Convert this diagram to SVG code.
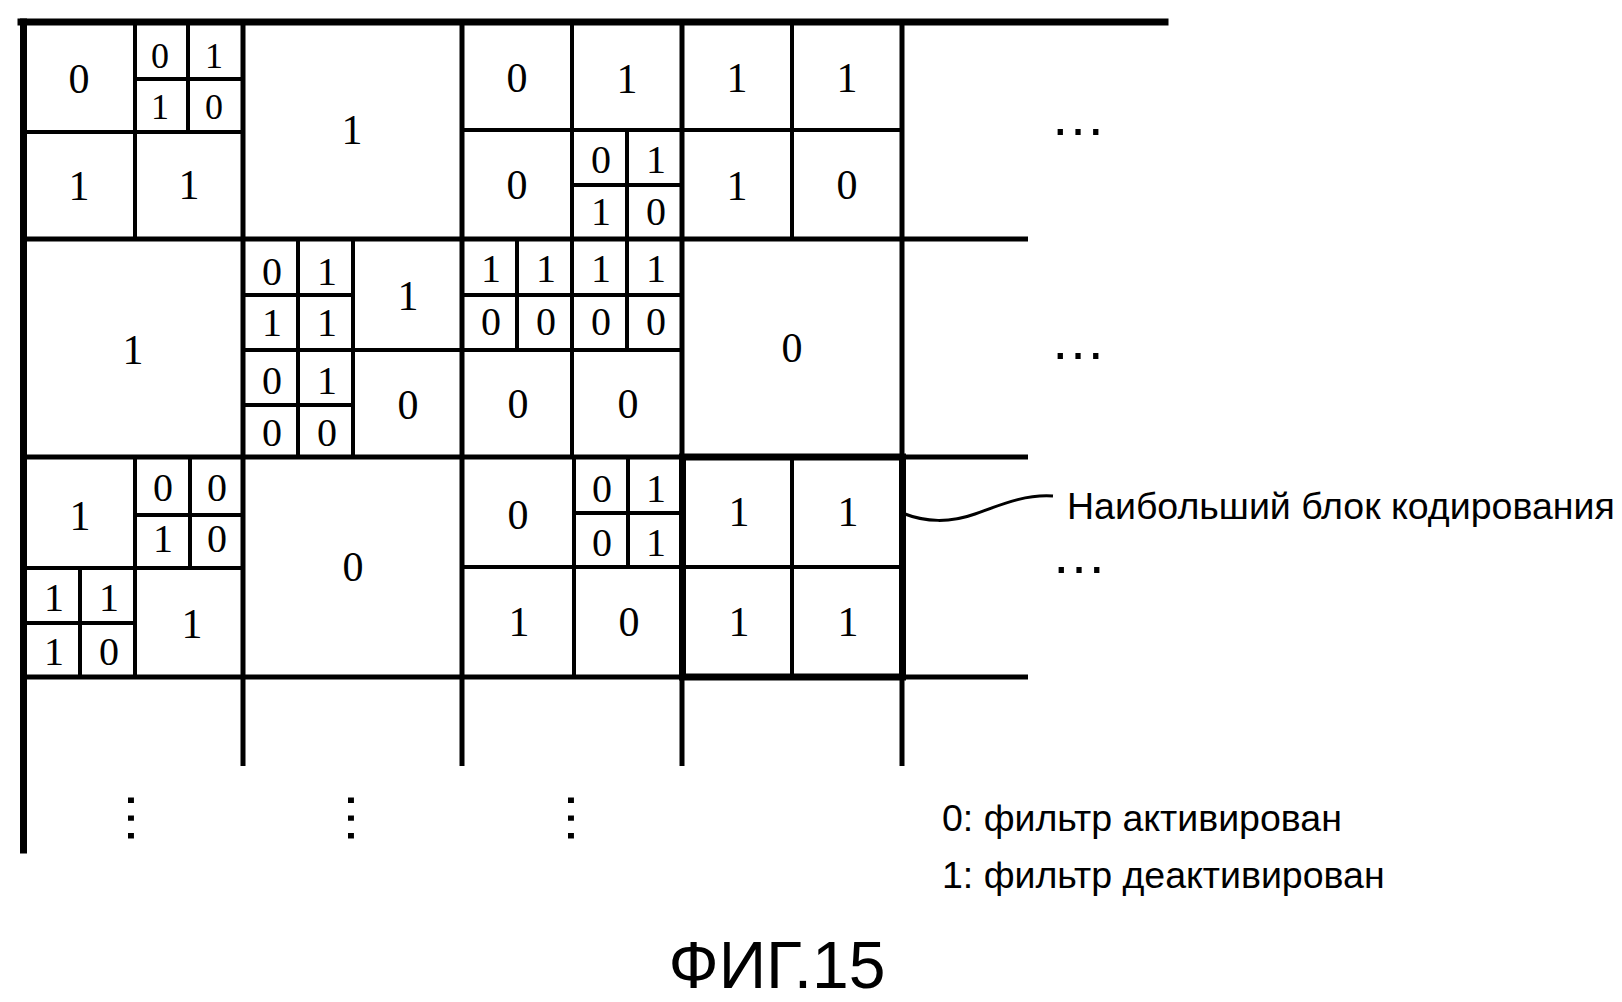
<svg xmlns="http://www.w3.org/2000/svg" width="1622" height="1002" viewBox="0 0 1622 1002">
<style>
.bg{fill:#fff}
.bd{stroke:#000;stroke-width:7;stroke-linecap:square;fill:none}
.lcu{stroke:#000;stroke-width:5;fill:none}
.cu{stroke:#000;stroke-width:4;fill:none}
.hl{stroke:#000;stroke-width:7;fill:none}
.conn{stroke:#000;stroke-width:3;fill:none}
.d{font-family:"Liberation Serif","Times New Roman",serif;text-anchor:middle;fill:#000}
.b{font-size:42px}
.s{font-size:40px}
.xs{font-size:36px}
.t{font-family:"Liberation Sans",Arial,sans-serif;fill:#000;font-size:37.5px}
.dots{font-family:"Liberation Sans",Arial,sans-serif;fill:#000;font-size:56px;text-anchor:middle}
</style>
<rect class="bg" x="0" y="0" width="1622" height="1002"/>
<g id="grid">
<line class="bd" x1="21" y1="22" x2="1165" y2="22"/>
<line class="bd" x1="23.5" y1="22" x2="23.5" y2="850"/>
<line class="lcu" x1="23" y1="239" x2="1028" y2="239"/>
<line class="lcu" x1="23" y1="457" x2="1028" y2="457"/>
<line class="lcu" x1="23" y1="677" x2="1028" y2="677"/>
<line class="lcu" x1="243" y1="22" x2="243" y2="766"/>
<line class="lcu" x1="462" y1="22" x2="462" y2="766"/>
<line class="lcu" x1="682" y1="22" x2="682" y2="766"/>
<line class="lcu" x1="902" y1="22" x2="902" y2="766"/>
</g>
<g id="lcu-0-0">
<line class="cu" x1="135" y1="22" x2="135" y2="239"/>
<line class="cu" x1="23" y1="132" x2="243" y2="132"/>
<line class="cu" x1="188" y1="22" x2="188" y2="132"/>
<line class="cu" x1="135" y1="79" x2="243" y2="79"/>
<text class="d b" x="79" y="93">0</text>
<text class="d xs" x="160" y="68">0</text>
<text class="d xs" x="214" y="68">1</text>
<text class="d xs" x="160" y="119">1</text>
<text class="d xs" x="214" y="119">0</text>
<text class="d b" x="79" y="200">1</text>
<text class="d b" x="189" y="199">1</text>
</g>
<g id="lcu-0-1">
<text class="d b" x="352" y="144">1</text>
</g>
<g id="lcu-0-2">
<line class="cu" x1="572" y1="22" x2="572" y2="239"/>
<line class="cu" x1="462" y1="130" x2="682" y2="130"/>
<line class="cu" x1="627" y1="130" x2="627" y2="239"/>
<line class="cu" x1="572" y1="185" x2="682" y2="185"/>
<text class="d b" x="517" y="92">0</text>
<text class="d b" x="627" y="93">1</text>
<text class="d b" x="517" y="199">0</text>
<text class="d s" x="601" y="173">0</text>
<text class="d s" x="656" y="173">1</text>
<text class="d s" x="601" y="225">1</text>
<text class="d s" x="656" y="225">0</text>
</g>
<g id="lcu-0-3">
<line class="cu" x1="792" y1="22" x2="792" y2="239"/>
<line class="cu" x1="682" y1="130" x2="902" y2="130"/>
<text class="d b" x="737" y="92">1</text>
<text class="d b" x="847" y="92">1</text>
<text class="d b" x="737" y="200">1</text>
<text class="d b" x="847" y="199">0</text>
</g>
<g id="lcu-1-0">
<text class="d b" x="133" y="364">1</text>
</g>
<g id="lcu-1-1">
<line class="cu" x1="353" y1="239" x2="353" y2="457"/>
<line class="cu" x1="243" y1="350" x2="462" y2="350"/>
<line class="cu" x1="298" y1="239" x2="298" y2="457"/>
<line class="cu" x1="243" y1="295" x2="353" y2="295"/>
<line class="cu" x1="243" y1="405" x2="353" y2="405"/>
<text class="d s" x="272" y="285">0</text>
<text class="d s" x="327" y="285">1</text>
<text class="d s" x="272" y="336">1</text>
<text class="d s" x="327" y="336">1</text>
<text class="d b" x="408" y="310">1</text>
<text class="d s" x="272" y="394">0</text>
<text class="d s" x="327" y="394">1</text>
<text class="d s" x="272" y="446">0</text>
<text class="d s" x="327" y="446">0</text>
<text class="d b" x="408" y="419">0</text>
</g>
<g id="lcu-1-2">
<line class="cu" x1="572" y1="239" x2="572" y2="457"/>
<line class="cu" x1="462" y1="350" x2="682" y2="350"/>
<line class="cu" x1="517" y1="239" x2="517" y2="350"/>
<line class="cu" x1="627" y1="239" x2="627" y2="350"/>
<line class="cu" x1="462" y1="295" x2="682" y2="295"/>
<text class="d s" x="491" y="282">1</text>
<text class="d s" x="546" y="282">1</text>
<text class="d s" x="491" y="335">0</text>
<text class="d s" x="546" y="335">0</text>
<text class="d s" x="601" y="282">1</text>
<text class="d s" x="656" y="282">1</text>
<text class="d s" x="601" y="335">0</text>
<text class="d s" x="656" y="335">0</text>
<text class="d b" x="518" y="418">0</text>
<text class="d b" x="628" y="418">0</text>
</g>
<g id="lcu-1-3">
<text class="d b" x="792" y="362">0</text>
</g>
<g id="lcu-2-0">
<line class="cu" x1="135" y1="457" x2="135" y2="677"/>
<line class="cu" x1="23" y1="568" x2="243" y2="568"/>
<line class="cu" x1="190" y1="457" x2="190" y2="568"/>
<line class="cu" x1="135" y1="515" x2="243" y2="515"/>
<line class="cu" x1="80" y1="568" x2="80" y2="677"/>
<line class="cu" x1="23" y1="623" x2="135" y2="623"/>
<text class="d b" x="80" y="530">1</text>
<text class="d s" x="163" y="501">0</text>
<text class="d s" x="217" y="501">0</text>
<text class="d s" x="163" y="552">1</text>
<text class="d s" x="217" y="552">0</text>
<text class="d s" x="54" y="611">1</text>
<text class="d s" x="109" y="611">1</text>
<text class="d s" x="54" y="665">1</text>
<text class="d s" x="109" y="665">0</text>
<text class="d b" x="192" y="638">1</text>
</g>
<g id="lcu-2-1">
<text class="d b" x="353" y="581">0</text>
</g>
<g id="lcu-2-2">
<line class="cu" x1="574" y1="457" x2="574" y2="677"/>
<line class="cu" x1="462" y1="567" x2="682" y2="567"/>
<line class="cu" x1="628" y1="457" x2="628" y2="567"/>
<line class="cu" x1="574" y1="513" x2="682" y2="513"/>
<text class="d b" x="518" y="529">0</text>
<text class="d s" x="602" y="502">0</text>
<text class="d s" x="656" y="502">1</text>
<text class="d s" x="602" y="556">0</text>
<text class="d s" x="656" y="556">1</text>
<text class="d b" x="519" y="636">1</text>
<text class="d b" x="629" y="636">0</text>
</g>
<g id="lcu-2-3">
<rect class="hl" x="682.5" y="457" width="220" height="220"/>
<line class="cu" x1="792" y1="457" x2="792" y2="677"/>
<line class="cu" x1="682" y1="567" x2="902" y2="567"/>
<text class="d b" x="739" y="526">1</text>
<text class="d b" x="848" y="526">1</text>
<text class="d b" x="739" y="636">1</text>
<text class="d b" x="848" y="636">1</text>
</g>
<g id="ellipses">
<text class="dots" x="1078" y="135">…</text>
<text class="dots" x="1078" y="359">…</text>
<text class="dots" x="1079" y="573">…</text>
<text class="dots" transform="translate(133 818) rotate(90)" x="0" y="5">…</text>
<text class="dots" transform="translate(353 818) rotate(90)" x="0" y="5">…</text>
<text class="dots" transform="translate(573 818) rotate(90)" x="0" y="5">…</text>
</g>
<g id="connectors">
<path class="conn" d="M 905 514 C 925 522, 950 523, 975 514 S 1025 494, 1053 496"/>
</g>
<g id="label">
<text class="t" x="1067" y="519">Наибольший блок кодирования</text>
</g>
<g id="legend">
<text class="t" x="942" y="831">0: фильтр активирован</text>
<text class="t" x="942" y="888">1: фильтр деактивирован</text>
</g>
<g id="title">
<text class="t" x="777" y="988" style="font-size:66px;text-anchor:middle">ФИГ.15</text>
</g>
</svg>
